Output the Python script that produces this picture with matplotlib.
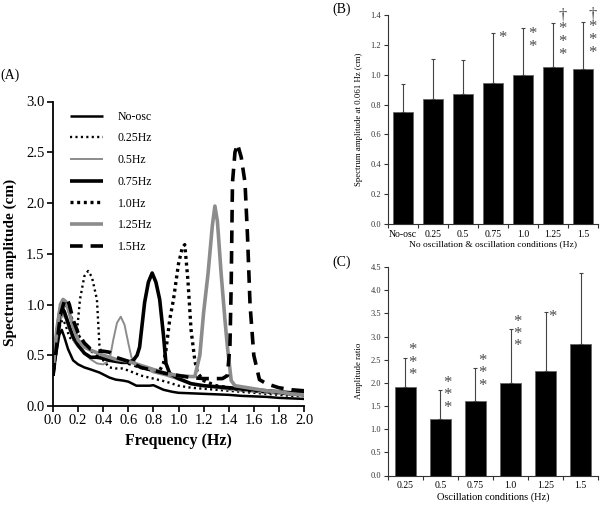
import matplotlib
matplotlib.use("Agg")
import matplotlib.pyplot as plt
import numpy as np

plt.rcParams['font.family'] = ['Liberation Serif', 'DejaVu Serif']

# ---------------- Panel A data (frequency Hz, spectrum amplitude cm) ----------------
noosc_f = [0.0, 0.03, 0.05, 0.07, 0.09, 0.12, 0.16, 0.2, 0.25, 0.3, 0.37, 0.45, 0.5, 0.56, 0.6, 0.665, 0.7, 0.77, 0.8, 0.88, 0.95, 1.0, 1.1, 1.2, 1.3, 1.4, 1.5, 1.6, 1.7, 1.8, 1.9, 2.0]
noosc_a = [0.30, 0.55, 0.70, 0.75, 0.68, 0.56, 0.45, 0.41, 0.38, 0.36, 0.33, 0.28, 0.26, 0.25, 0.24, 0.20, 0.20, 0.20, 0.205, 0.16, 0.14, 0.13, 0.125, 0.12, 0.115, 0.11, 0.10, 0.095, 0.09, 0.08, 0.075, 0.07]

hz025_f = [0.0, 0.03, 0.06, 0.08, 0.1, 0.13, 0.16, 0.19, 0.215, 0.25, 0.28, 0.31, 0.35, 0.37, 0.4, 0.45, 0.5, 0.55, 0.6, 0.7, 0.8, 0.9, 1.0, 1.1, 1.2, 1.3, 1.4, 1.5, 1.6, 1.7, 1.8, 1.9, 2.0]
hz025_a = [0.30, 0.60, 0.82, 0.85, 0.80, 0.68, 0.64, 0.72, 1.05, 1.28, 1.33, 1.27, 1.05, 0.60, 0.45, 0.38, 0.37, 0.37, 0.35, 0.30, 0.27, 0.24, 0.20, 0.18, 0.17, 0.16, 0.15, 0.14, 0.13, 0.12, 0.11, 0.10, 0.10]

hz05_f = [0.0, 0.03, 0.06, 0.08, 0.1, 0.13, 0.17, 0.2, 0.25, 0.3, 0.35, 0.4, 0.45, 0.48, 0.51, 0.54, 0.57, 0.6, 0.625, 0.66, 0.7, 0.8, 0.9, 1.0, 1.1, 1.2, 1.3, 1.4, 1.5, 1.6, 1.7, 1.8, 1.9, 2.0]
hz05_a = [0.35, 0.65, 0.85, 0.90, 0.86, 0.75, 0.63, 0.58, 0.52, 0.46, 0.42, 0.41, 0.45, 0.65, 0.82, 0.88, 0.80, 0.62, 0.48, 0.42, 0.39, 0.33, 0.30, 0.26, 0.22, 0.20, 0.18, 0.16, 0.15, 0.14, 0.13, 0.12, 0.11, 0.10]

hz075_f = [0.0, 0.03, 0.05, 0.07, 0.09, 0.12, 0.16, 0.2, 0.25, 0.3, 0.35, 0.4, 0.45, 0.5, 0.55, 0.6, 0.64, 0.67, 0.69, 0.73, 0.76, 0.79, 0.82, 0.85, 0.88, 0.9, 0.93, 1.0, 1.1, 1.2, 1.3, 1.4, 1.5, 1.6, 1.7, 1.8, 1.9, 2.0]
hz075_a = [0.30, 0.70, 0.90, 0.97, 0.93, 0.82, 0.68, 0.60, 0.52, 0.48, 0.48, 0.47, 0.45, 0.44, 0.43, 0.43, 0.45, 0.50, 0.58, 1.02, 1.22, 1.31, 1.22, 1.05, 0.70, 0.42, 0.32, 0.27, 0.22, 0.20, 0.19, 0.18, 0.17, 0.16, 0.15, 0.14, 0.13, 0.12]

hz10_f = [0.0, 0.03, 0.06, 0.08, 0.1, 0.12, 0.15, 0.2, 0.25, 0.3, 0.35, 0.4, 0.5, 0.6, 0.7, 0.8, 0.85, 0.88, 0.9, 0.93, 0.96, 1.0, 1.03, 1.05, 1.075, 1.1, 1.13, 1.15, 1.2, 1.3, 1.4, 1.5, 1.6, 1.7, 1.8, 1.9, 2.0]
hz10_a = [0.30, 0.65, 0.90, 0.98, 1.00, 0.97, 0.85, 0.70, 0.60, 0.55, 0.50, 0.47, 0.45, 0.42, 0.38, 0.35, 0.35, 0.42, 0.55, 0.85, 1.05, 1.40, 1.56, 1.59, 1.24, 0.75, 0.45, 0.33, 0.25, 0.20, 0.18, 0.16, 0.15, 0.14, 0.13, 0.12, 0.12]

hz125_f = [0.0, 0.03, 0.06, 0.08, 0.1, 0.13, 0.16, 0.2, 0.25, 0.3, 0.4, 0.5, 0.6, 0.7, 0.8, 0.9, 1.0, 1.1, 1.13, 1.17, 1.2, 1.235, 1.27, 1.29, 1.31, 1.34, 1.37, 1.39, 1.42, 1.45, 1.5, 1.6, 1.7, 1.8, 1.9, 2.0]
hz125_a = [0.35, 0.75, 1.00, 1.05, 1.03, 0.92, 0.78, 0.65, 0.58, 0.55, 0.50, 0.46, 0.44, 0.40, 0.36, 0.32, 0.30, 0.29, 0.29, 0.50, 0.92, 1.30, 1.78, 1.97, 1.82, 1.30, 0.85, 0.58, 0.25, 0.20, 0.19, 0.17, 0.15, 0.14, 0.12, 0.11]

hz15_f = [0.0, 0.03, 0.06, 0.09, 0.11, 0.13, 0.16, 0.2, 0.25, 0.3, 0.35, 0.4, 0.45, 0.5, 0.55, 0.6, 0.7, 0.8, 0.9, 1.0, 1.1, 1.2, 1.3, 1.35, 1.39, 1.41, 1.42, 1.43, 1.45, 1.47, 1.5, 1.53, 1.55, 1.57, 1.6, 1.645, 1.7, 1.8, 1.9, 2.0]
hz15_a = [0.30, 0.60, 0.90, 1.03, 1.06, 1.00, 0.85, 0.72, 0.62, 0.56, 0.54, 0.54, 0.53, 0.48, 0.46, 0.44, 0.38, 0.35, 0.32, 0.30, 0.28, 0.27, 0.27, 0.27, 0.30, 0.60, 1.20, 2.20, 2.50, 2.58, 2.45, 2.20, 1.67, 1.00, 0.50, 0.26, 0.22, 0.18, 0.16, 0.15]

series_labels = ['No-osc', '0.25Hz', '0.5Hz', '0.75Hz', '1.0Hz', '1.25Hz', '1.5Hz']

# ---------------- Panel B data ----------------
b_cats = ['No-osc', '0.25', '0.5', '0.75', '1.0', '1.25', '1.5']
b_mean = [0.748, 0.835, 0.870, 0.944, 0.996, 1.050, 1.036]
b_errtop = [0.938, 1.105, 1.097, 1.278, 1.311, 1.345, 1.356]
b_marks = [[], [], [], ['*'], ['*', '*'], ['\u2020', '*', '*', '*'], ['\u2020', '*', '*', '*']]
b_anchor = [0, 0, 0, 0, 0, 1, 1]

# ---------------- Panel C data ----------------
c_cats = ['0.25', '0.5', '0.75', '1.0', '1.25', '1.5']
c_mean = [1.92, 1.21, 1.61, 1.99, 2.26, 2.84]
c_errtop = [2.54, 1.84, 2.31, 3.16, 3.53, 4.36]
c_marks = [['*', '*', '*'], ['*', '*', '*'], ['*', '*', '*'], ['*', '*', '*'], ['*'], []]
c_anchor = [1, 1, 1, 1, 0, 0]

fig = plt.figure(figsize=(6.0, 5.08), dpi=100)

# ---------------- Panel A ----------------
axA = fig.add_axes([53/600, 1-406/508, 251/600, 304.5/508])
styles = [
    dict(color='black', lw=1.8, ls='-'),
    dict(color='black', lw=1.7, ls=(0, (0.9, 1.4))),
    dict(color='#8c8c8c', lw=1.4, ls='-'),
    dict(color='black', lw=2.6, ls='-'),
    dict(color='black', lw=2.4, ls=(0, (0.9, 1.1))),
    dict(color='#8c8c8c', lw=2.6, ls='-'),
    dict(color='black', lw=2.6, ls=(0, (3.5, 2.2))),
]
data = [(noosc_f, noosc_a), (hz025_f, hz025_a), (hz05_f, hz05_a), (hz075_f, hz075_a),
        (hz10_f, hz10_a), (hz125_f, hz125_a), (hz15_f, hz15_a)]
for (f, a), st, lab in zip(data, styles, series_labels):
    axA.plot(f, a, label=lab, solid_capstyle='butt', dash_capstyle='butt', **st)
axA.set_xlim(0, 2.0)
axA.set_ylim(0, 3.0)
axA.set_xticks(np.arange(0, 2.01, 0.2))
axA.set_yticks(np.arange(0, 3.01, 0.5))
axA.xaxis.set_major_formatter(matplotlib.ticker.FormatStrFormatter('%.1f'))
axA.yaxis.set_major_formatter(matplotlib.ticker.FormatStrFormatter('%.1f'))
for s in ['top', 'right']:
    axA.spines[s].set_visible(False)
for s in ['left', 'bottom']:
    axA.spines[s].set_linewidth(1.3)
axA.tick_params(direction='out', length=4, width=1.2, labelsize=10.5, pad=2)
axA.set_xlabel('Frequency (Hz)', fontsize=11.5, fontweight='bold', labelpad=4)
axA.set_ylabel('Spectrum amplitude (cm)', fontsize=11, fontweight='bold', labelpad=6)
axA.yaxis.set_label_coords(-0.142, 0.47)
leg = axA.legend(loc='upper left', bbox_to_anchor=(0.05, 0.985), frameon=False,
                 fontsize=8.5, handlelength=2.8, handletextpad=1.2, labelspacing=0.82,
                 borderaxespad=0)
fig.text(10/600, 1-75/508, '(A)', fontsize=10, ha='center', va='center')


def style_bar_axes(ax):
    for s in ['top', 'right']:
        ax.spines[s].set_visible(False)
    for s in ['left', 'bottom']:
        ax.spines[s].set_linewidth(0.8)
        ax.spines[s].set_color('#333333')
    ax.tick_params(axis='y', direction='out', length=3, width=0.8, labelsize=6, pad=2, colors='#333333')
    ax.tick_params(axis='x', which='major', length=0, labelsize=7, pad=4)
    ax.tick_params(axis='x', which='minor', direction='out', length=3, width=0.8, colors='#333333')


def add_marks(ax, errtop, marks, anchors, dx, spacing, fs, ls):
    # one stacked text per bar; spacing is the line pitch in points
    for i, (top, mk, anc) in enumerate(zip(errtop, marks, anchors)):
        if not mk:
            continue
        n = len(mk)
        dy = (anc - (n - 1) / 2.0) * spacing
        if mk[-1] == '*':
            dy -= 3.5
        ax.annotate('\n'.join(mk), xy=(i, top), xytext=(dx, dy), textcoords='offset points',
                    ha='center', va='center', fontsize=fs, color='#4a4a4a',
                    linespacing=ls)


# ---------------- Panel B ----------------
axB = fig.add_axes([388/600, 1-224/508, 210/600, 209/508])
xb = np.arange(len(b_cats))
b_err = [t - m for t, m in zip(b_errtop, b_mean)]
axB.bar(xb, b_mean, width=0.64, color='black', edgecolor='#666666', linewidth=0.6,
        yerr=[np.zeros(len(b_err)), b_err], capsize=1.5,
        error_kw=dict(ecolor='#444444', elinewidth=0.8, capthick=0.8))
axB.set_xlim(-0.5, len(b_cats) - 0.5)
axB.set_ylim(0, 1.4)
axB.set_yticks(np.arange(0, 1.41, 0.2))
axB.yaxis.set_major_formatter(matplotlib.ticker.FormatStrFormatter('%.1f'))
axB.set_xticks(xb)
axB.set_xticklabels(b_cats)
axB.set_xticks(np.arange(-0.5, len(b_cats), 1.0), minor=True)
style_bar_axes(axB)
axB.set_ylabel('Spectrum amplitude at 0.061 Hz (cm)', fontsize=6.3, labelpad=5)
axB.set_xlabel('No oscillation & oscillation conditions (Hz)', fontsize=6.8, labelpad=1)
add_marks(axB, b_errtop, b_marks, b_anchor, 6.8, 10.5, 12, 0.76)
fig.text(342/600, 1-9/508, '(B)', fontsize=10, ha='center', va='center')

# ---------------- Panel C ----------------
axC = fig.add_axes([388/600, 1-475.5/508, 210/600, 208.5/508])
xc = np.arange(len(c_cats))
c_err = [t - m for t, m in zip(c_errtop, c_mean)]
axC.bar(xc, c_mean, width=0.6, color='black', edgecolor='#666666', linewidth=0.6,
        yerr=[np.zeros(len(c_err)), c_err], capsize=1.5,
        error_kw=dict(ecolor='#444444', elinewidth=0.8, capthick=0.8))
axC.set_xlim(-0.5, len(c_cats) - 0.5)
axC.set_ylim(0, 4.5)
axC.set_yticks(np.arange(0, 4.51, 0.5))
axC.yaxis.set_major_formatter(matplotlib.ticker.FormatStrFormatter('%.1f'))
axC.set_xticks(xc)
axC.set_xticklabels(c_cats)
axC.set_xticks(np.arange(-0.5, len(c_cats), 1.0), minor=True)
style_bar_axes(axC)
axC.set_ylabel('Amplitude ratio', fontsize=6.3, labelpad=5)
axC.set_xlabel('Oscillation conditions (Hz)', fontsize=7.5, labelpad=2)
add_marks(axC, c_errtop, c_marks, c_anchor, 5.2, 9.6, 12, 0.70)
fig.text(342/600, 1-262/508, '(C)', fontsize=10, ha='center', va='center')

fig.savefig('out.png', dpi=100)
